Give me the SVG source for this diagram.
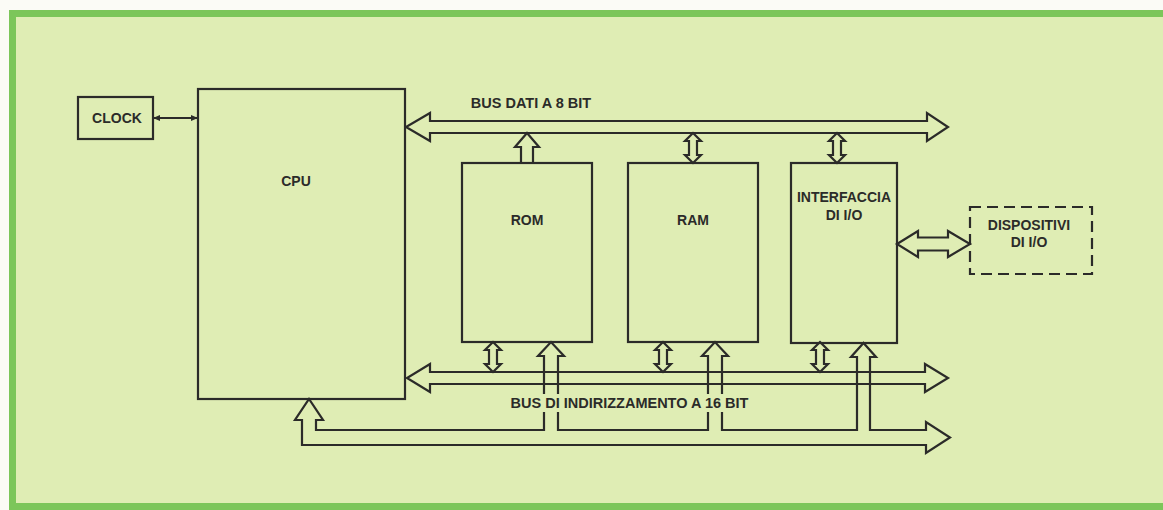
<svg xmlns="http://www.w3.org/2000/svg" width="1163" height="510" viewBox="0 0 1163 510">
<style>
.box{fill:none;stroke:#2b2b29;stroke-width:2.2}
.dash{fill:none;stroke:#2b2b29;stroke-width:2.2;stroke-dasharray:11 6}
.bus{fill:none;stroke:#2b2b29;stroke-width:2.2;stroke-linejoin:miter}
.lbl{font-family:"Liberation Sans",Arial,sans-serif;font-weight:bold;font-size:14px;fill:#2b2b29;text-anchor:middle}
.blbl{font-family:"Liberation Sans",Arial,sans-serif;font-weight:bold;font-size:14.5px;fill:#2b2b29;text-anchor:middle}
</style>
<defs>
<path id="dbl2" d="M0,0 L8,8 L4,8 L4,22 L8,22 L0,30 L-8,22 L-4,22 L-4,8 L-8,8 Z" class="bus"/>
<marker id="ah" markerWidth="8" markerHeight="8" refX="7" refY="4" orient="auto-start-reverse" markerUnits="userSpaceOnUse">
<path d="M0,1 L7,4 L0,7 Z" fill="#2b2b29"/>
</marker>
</defs>
<rect x="0" y="0" width="1163" height="510" fill="#fbfbf6"/>
<rect x="9" y="10" width="1154" height="500" fill="#7cc65a"/>
<rect x="16" y="17" width="1147" height="486" fill="#dfedb4"/>
<g id="connectors">
<line x1="153" y1="118" x2="198" y2="118" stroke="#2b2b29" stroke-width="2" marker-start="url(#ah)" marker-end="url(#ah)"/>
<polygon class="bus" points="430,121 927,121 927,113 948,127 927,141 927,133 430,133 430,141 406,127 430,113"/>
<polyline class="bus" points="521,163 521,147 515,147 527,133 539,147 533,147 533,163"/>
<use href="#dbl2" x="693" y="133"/>
<use href="#dbl2" x="837" y="133"/>
<polygon class="bus" points="430,372 925,372 925,364 948,378 925,392 925,384 430,384 430,392 407,378 430,364"/>
<use href="#dbl2" x="493" y="342"/>
<use href="#dbl2" x="663" y="342"/>
<use href="#dbl2" x="820" y="342"/>
<polygon class="bus" points="302,420 295,420 309,399 323,420 316,420 316,430 544,430 544,356 538,356 551,342 564,356 558,356 558,430 708,430 708,356 702,356 715,342 728,356 722,356 722,430 857,430 857,357 851,357 863.5,343 876,357 870,357 870,430 926,430 926,422 950,437.5 926,453 926,445 302,445"/>
<polygon class="bus" points="897,244 918,231 918,237.5 948,237.5 948,231 970,244 948,257 948,250.5 918,250.5 918,257"/>
<text class="blbl" x="531" y="108">BUS DATI A 8 BIT</text>
<rect x="506" y="394" width="248" height="18" fill="#dfedb4"/>
<text class="blbl" x="629.5" y="408">BUS DI INDIRIZZAMENTO A 16 BIT</text>
</g>
<g id="clock">
<rect class="box" x="78" y="97" width="75" height="42"/>
<text class="lbl" x="117" y="123">CLOCK</text>
</g>
<g id="cpu">
<rect class="box" x="198" y="89" width="207" height="310"/>
<text class="lbl" x="296" y="186">CPU</text>
</g>
<g id="rom">
<rect class="box" x="462" y="163" width="130" height="179"/>
<text class="lbl" x="527" y="225">ROM</text>
</g>
<g id="ram">
<rect class="box" x="628" y="163" width="130" height="179"/>
<text class="lbl" x="693" y="225">RAM</text>
</g>
<g id="interfaccia">
<rect class="box" x="791" y="163" width="106" height="180"/>
<text class="lbl" x="844" y="202">INTERFACCIA</text>
<text class="lbl" x="844" y="220">DI I/O</text>
</g>
<g id="dispositivi">
<rect class="dash" x="970" y="207" width="122" height="67"/>
<text class="lbl" x="1029" y="230">DISPOSITIVI</text>
<text class="lbl" x="1029" y="247">DI I/O</text>
</g>
</svg>
